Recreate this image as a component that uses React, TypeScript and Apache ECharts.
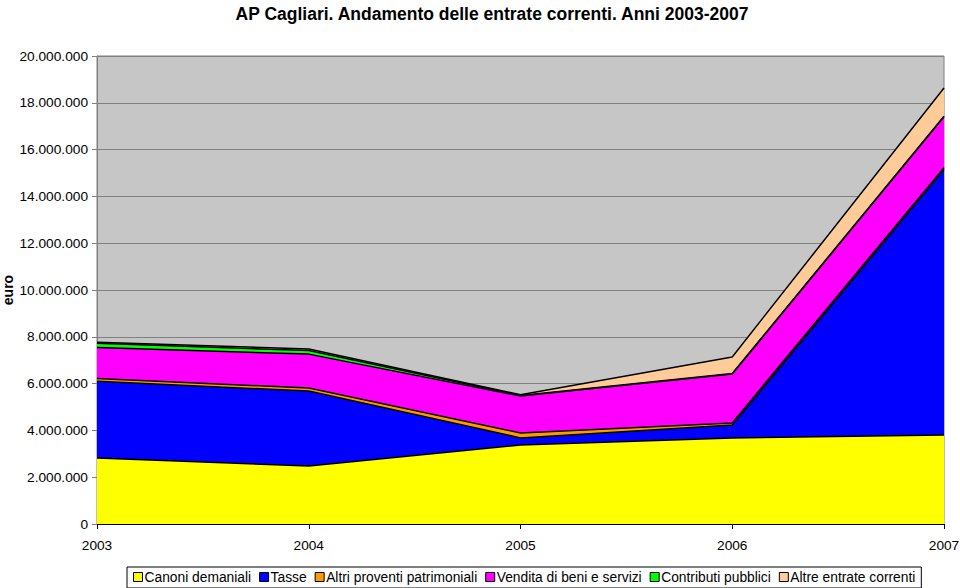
import React, { useEffect, useRef } from "react";
import * as echarts from "echarts";

const years = ["2003", "2004", "2005", "2006", "2007"];
const canoni = [2820000, 2480000, 3380000, 3680000, 3800000];
const tasse = [3280000, 3200000, 300000, 550000, 11350000];
const altriProventi = [120000, 130000, 210000, 90000, 80000];
const vendita = [1320000, 1450000, 1580000, 2090000, 2170000];
const contributi = [180000, 150000, 20000, 20000, 30000];
const altreEntrate = [50000, 70000, 30000, 710000, 1200000];

const seriesNames = [
  "Canoni demaniali",
  "Tasse",
  "Altri proventi patrimoniali",
  "Vendita di beni e servizi",
  "Contributi pubblici",
  "Altre entrate correnti",
];
const seriesData = [canoni, tasse, altriProventi, vendita, contributi, altreEntrate];
const seriesColors = ["#FFFF00", "#0000FF", "#FF9900", "#FF00FF", "#00FF00", "#FFCC99"];

function fmt(v: number): string {
  const s = Math.round(v).toString();
  return s.replace(/\B(?=(\d{3})+(?!\d))/g, ".");
}

export default function App() {
  const ref = useRef<HTMLDivElement>(null);
  useEffect(() => {
    if (!ref.current) return;
    const chart = echarts.init(ref.current, undefined, { renderer: "svg" });
    const font = "Liberation Sans, Arial, sans-serif";
    chart.setOption({
      animation: false,
      backgroundColor: "#FFFFFF",
      title: {
        text: "AP Cagliari. Andamento delle entrate correnti. Anni 2003-2007",
        left: 487,
        textAlign: "center",
        top: 0,
        textStyle: { fontFamily: font, fontSize: 17.5, fontWeight: "bold", color: "#000" },
      },
      grid: {
        left: 97,
        right: 16,
        top: 56,
        bottom: 64,
        show: true,
        outerBoundsMode: "none",
        containLabel: false,
        backgroundColor: "#C6C6C6",
        borderColor: "#808080",
        borderWidth: 1,
      },
      legend: {
        data: seriesNames,
        top: 567,
        left: 127,
        icon: "rect",
        itemWidth: 9,
        itemHeight: 9,
        itemGap: 8,
        padding: [3, 6, 4, 6],
        borderColor: "#000",
        borderWidth: 1,
        backgroundColor: "#FFFFFF",
        textStyle: { fontFamily: font, fontSize: 13.8, color: "#000", padding: [0, 0, 0, -3] },
        itemStyle: { borderColor: "#000", borderWidth: 1 },
      },
      xAxis: {
        type: "category",
        data: years,
        boundaryGap: false,
        axisLine: { lineStyle: { color: "#000" } },
        axisTick: { show: true, alignWithLabel: true, length: 5, lineStyle: { color: "#000" } },
        axisLabel: { fontFamily: font, fontSize: 13.7, color: "#000", margin: 14 },
      },
      yAxis: {
        type: "value",
        min: 0,
        max: 20000000,
        interval: 2000000,
        name: "euro",
        nameLocation: "middle",
        nameRotate: 90,
        nameGap: 82,
        nameMoveOverlap: false,
        nameTextStyle: { fontFamily: font, fontSize: 14, fontWeight: "bold", color: "#000" },
        axisLine: { show: true, lineStyle: { color: "#808080" } },
        axisTick: { show: true, length: 5, lineStyle: { color: "#808080" } },
        splitLine: { show: true, lineStyle: { color: "#808080", width: 1 } },
        axisLabel: {
          fontFamily: font,
          fontSize: 13.7,
          color: "#000",
          margin: 9,
          formatter: (v: number) => fmt(v),
        },
      },
      series: seriesNames.map((name, i) => ({
        name,
        type: "line",
        stack: "total",
        data: seriesData[i],
        symbol: "none",
        itemStyle: { color: seriesColors[i] },
        lineStyle: { color: "#000", width: 1.5 },
        areaStyle: { color: seriesColors[i], opacity: 1 },
        z: 2,
      })),
    });
    return () => chart.dispose();
  }, []);
  return <div ref={ref} style={{ width: 960, height: 588, position: "absolute", left: 0, top: 0 }} />;
}
